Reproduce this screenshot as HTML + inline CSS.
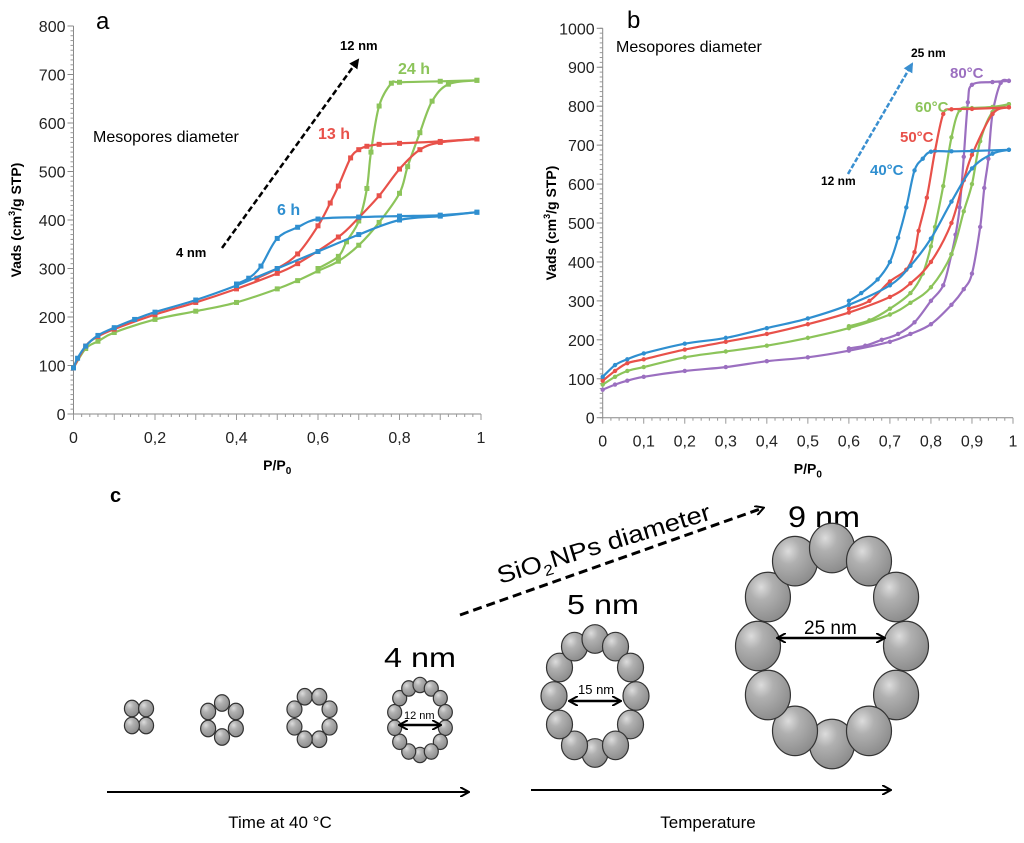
<!DOCTYPE html>
<html><head><meta charset="utf-8"><style>
body{margin:0;background:#fff;}
svg text{font-family:"Liberation Sans",sans-serif;}
</style></head><body>
<svg id="fig" width="1024" height="838" viewBox="0 0 1024 838" xmlns="http://www.w3.org/2000/svg">
<defs>
<radialGradient id="ball" cx="0.35" cy="0.3" r="0.75"><stop offset="0" stop-color="#dcdcdc"/><stop offset="0.35" stop-color="#b0b0b0"/><stop offset="1" stop-color="#8a8a8a"/></radialGradient>
<marker id="ah" markerWidth="10" markerHeight="10" refX="8" refY="5" orient="auto" markerUnits="userSpaceOnUse"><path d="M0,0 L9,5 L0,10" fill="none" stroke="#000" stroke-width="2"/></marker>
<marker id="ahs" markerWidth="10" markerHeight="10" refX="2" refY="5" orient="auto" markerUnits="userSpaceOnUse"><path d="M10,0 L1,5 L10,10" fill="none" stroke="#000" stroke-width="2"/></marker>
<marker id="ahf" markerWidth="10" markerHeight="10" refX="8" refY="5" orient="auto" markerUnits="userSpaceOnUse"><path d="M0,0 L10,5 L0,10Z" fill="#000"/></marker>
<marker id="ahb" markerWidth="10" markerHeight="10" refX="8" refY="5" orient="auto" markerUnits="userSpaceOnUse"><path d="M0,0 L10,5 L0,10Z" fill="#3a8fd0"/></marker>
</defs>
<g id="ga"></g>
<g id="gb"></g>
<g id="gc">
<text x="110" y="502" font-size="20" font-weight="bold">c</text>
<line x1="460" y1="615" x2="763" y2="508" stroke="#000" stroke-width="3" stroke-dasharray="9,5" marker-end="url(#ah)"/>
<text transform="translate(500,584) rotate(-17)" font-size="24" textLength="222" lengthAdjust="spacingAndGlyphs">SiO<tspan font-size="15" dy="6">2</tspan><tspan dy="-6">NPs diameter</tspan></text>
<text x="384" y="667" font-size="28" textLength="72" lengthAdjust="spacingAndGlyphs">4 nm</text>
<text x="567" y="614" font-size="28" textLength="72" lengthAdjust="spacingAndGlyphs">5 nm</text>
<text x="788" y="527" font-size="30" textLength="72" lengthAdjust="spacingAndGlyphs">9 nm</text>
<line x1="107" y1="792" x2="468" y2="792" stroke="#000" stroke-width="2" marker-end="url(#ah)"/>
<line x1="531" y1="790" x2="890" y2="790" stroke="#000" stroke-width="2" marker-end="url(#ah)"/>
<text x="280" y="828" font-size="17" text-anchor="middle">Time at 40 °C</text>
<text x="708" y="828" font-size="17" text-anchor="middle">Temperature</text>
</g>
</svg>
<script>
const NS="http://www.w3.org/2000/svg";
function mk(p,t,a){const e=document.createElementNS(NS,t);for(const k in a)e.setAttribute(k,a[k]);p.appendChild(e);return e;}

// ---- chart a data ----
const aTicksY=[0,100,200,300,400,500,600,700,800];
const aTicksX=[0,0.2,0.4,0.6,0.8,1];
const aTickLabelsX=["0","0,2","0,4","0,6","0,8","1"];
const a6hAdsX=[0,0.01,0.03,0.06,0.1,0.15,0.2,0.3,0.4,0.5,0.6,0.7,0.8,0.9,0.99];
const a6hAdsY=[95,115,140,162,178,195,210,235,265,300,335,370,400,408,416];
const a6hDesX=[0.99,0.9,0.8,0.7,0.6,0.55,0.5,0.46,0.43,0.4];
const a6hDesY=[416,410,408,406,402,385,362,305,280,268];
const a13hAdsX=[0,0.03,0.06,0.1,0.2,0.3,0.4,0.5,0.55,0.65,0.7,0.75,0.8,0.85,0.9,0.99];
const a13hAdsY=[95,140,160,175,205,230,258,290,310,365,405,450,505,545,560,567];
const a13hDesX=[0.99,0.9,0.8,0.75,0.72,0.7,0.68,0.65,0.63,0.6,0.55,0.5,0.45];
const a13hDesY=[567,562,558,556,552,545,528,470,435,388,330,300,280];
const a24hAdsX=[0,0.03,0.06,0.1,0.2,0.3,0.4,0.5,0.55,0.6,0.65,0.7,0.75,0.8,0.82,0.85,0.88,0.92,0.99];
const a24hAdsY=[95,135,150,168,195,212,230,258,275,295,315,348,395,455,510,580,645,680,688];
const a24hDesX=[0.99,0.9,0.8,0.78,0.75,0.73,0.72,0.7,0.67,0.65,0.6];
const a24hDesY=[688,686,684,682,635,540,465,398,355,325,300];

// ---- chart b data ----
const bTicksY=[0,100,200,300,400,500,600,700,800,900,1000];
const bTicksX=[0,0.1,0.2,0.3,0.4,0.5,0.6,0.7,0.8,0.9,1];
const bTickLabelsX=["0","0,1","0,2","0,3","0,4","0,5","0,6","0,7","0,8","0,9","1"];
const b40AdsX=[0,0.03,0.06,0.1,0.2,0.3,0.4,0.5,0.6,0.7,0.75,0.8,0.85,0.9,0.95,0.99];
const b40AdsY=[105,135,150,165,190,205,230,255,290,340,390,460,555,640,678,688];
const b40DesX=[0.99,0.9,0.85,0.8,0.78,0.76,0.74,0.72,0.7,0.67,0.63,0.6];
const b40DesY=[688,685,684,683,665,635,540,462,400,355,320,300];
const b50AdsX=[0,0.03,0.06,0.1,0.2,0.3,0.4,0.5,0.6,0.7,0.75,0.8,0.85,0.88,0.9,0.95,0.99];
const b50AdsY=[95,120,140,150,175,195,215,240,270,310,345,400,500,610,675,780,797];
const b50DesX=[0.99,0.9,0.85,0.83,0.81,0.79,0.77,0.76,0.74,0.7,0.65,0.6];
const b50DesY=[797,793,792,780,685,565,480,425,380,350,300,280];
const b60AdsX=[0,0.03,0.06,0.1,0.2,0.3,0.4,0.5,0.6,0.7,0.75,0.8,0.85,0.88,0.9,0.92,0.95,0.99];
const b60AdsY=[85,105,120,130,155,170,185,205,230,265,295,335,420,530,600,710,785,805];
const b60DesX=[0.99,0.95,0.9,0.87,0.85,0.83,0.81,0.8,0.78,0.75,0.7,0.65,0.6];
const b60DesY=[805,798,795,790,720,595,490,440,370,320,280,250,235];
const b80AdsX=[0,0.03,0.06,0.1,0.2,0.3,0.4,0.5,0.6,0.7,0.75,0.8,0.85,0.88,0.9,0.92,0.93,0.94,0.95,0.97,0.99];
const b80AdsY=[72,85,95,105,120,130,145,155,172,195,215,240,290,330,370,490,590,665,780,860,865];
const b80DesX=[0.99,0.95,0.9,0.89,0.88,0.87,0.86,0.85,0.83,0.8,0.76,0.72,0.68,0.64,0.6];
const b80DesY=[865,862,855,810,670,540,470,420,340,300,245,215,200,185,178];

function smooth(P){
  let d='M'+P[0][0].toFixed(1)+','+P[0][1].toFixed(1);
  for(let i=0;i<P.length-1;i++){
    const p0=P[i-1]||P[i],p1=P[i],p2=P[i+1],p3=P[i+2]||P[i+1];
    const c1=[p1[0]+(p2[0]-p0[0])/6,p1[1]+(p2[1]-p0[1])/6];
    const c2=[p2[0]-(p3[0]-p1[0])/6,p2[1]-(p3[1]-p1[1])/6];
    d+=' C'+c1.map(v=>v.toFixed(1))+' '+c2.map(v=>v.toFixed(1))+' '+p2.map(v=>v.toFixed(1));
  }
  return d;
}
function chart(g,o){
  const sx=v=>o.x0+(o.x1-o.x0)*v, sy=v=>o.y0-(o.y0-o.y1)*v/o.ymax;
  const ax=mk(g,'line',{x1:sx(0),y1:sy(0),x2:sx(0),y2:sy(o.ymax),stroke:'#888','stroke-width':1});
  
  
  const bx=mk(g,'line',{x1:sx(0),y1:sy(0),x2:sx(1),y2:sy(0),stroke:'#888','stroke-width':1});
  
  
  const minorY=o.ymax/80;
  for(let v=0;v<=o.ymax+0.001;v+=minorY){const t=mk(g,'line',{x1:sx(0)-3,x2:sx(0),y1:sy(v),y2:sy(v),stroke:'#999'});}
  for(let i=0;i<=50;i++){const v=i/50;const t=mk(g,'line',{x1:sx(v),x2:sx(v),y1:sy(0),y2:sy(0)+(i%5?3:6),stroke:'#999'});}
  o.ty.forEach(v=>{const t=mk(g,'text',{x:sx(0)-8,y:sy(v)+6,'font-size':16,'text-anchor':'end',fill:'#222'});t.textContent=v;
    const l=mk(g,'line',{x1:sx(0)-6,x2:sx(0),y1:sy(v),y2:sy(v),stroke:'#888'});});
  o.tx.forEach((v,i)=>{const t=mk(g,'text',{x:sx(v),y:sy(0)+29,'font-size':16,'text-anchor':'middle',fill:'#222'});t.textContent=o.txl[i];});
  const xt=mk(g,'text',{x:(sx(0)+sx(1))/2,y:sy(0)+56,'font-size':14,'font-weight':'bold','text-anchor':'middle'});
  xt.innerHTML='P/P<tspan font-size="10" dy="4">0</tspan>';
  
  
  const yt=mk(g,'text',{transform:`translate(${o.ytx},${(sy(0)+sy(o.ymax))/2}) rotate(-90)`,'font-size':14,'font-weight':'bold','text-anchor':'middle'});
  yt.innerHTML='Vads (cm<tspan font-size="9" dy="-6">3</tspan><tspan dy="6">/g STP)</tspan>';
  
  
  o.series.forEach(s=>{
    [[s[0],s[1]],[s[2],s[3]]].forEach(([X,Y],bi)=>{
      const P=X.map((x,i)=>[sx(x),sy(Y[i])]);
      const p=mk(g,'path',{d:smooth(P),fill:'none',stroke:s[4],'stroke-width':2.2});
      
      
      X.forEach((x,i)=>{const m=mk(g,o.sq?'rect':'circle',o.sq?{x:sx(x)-2.5,y:sy(Y[i])-2.5,width:5,height:5,fill:s[4]}:{cx:sx(x),cy:sy(Y[i]),r:2.2,fill:s[4]});
        });
    });
  });
  return {sx,sy};
}
chart(document.getElementById('ga'),{x0:73.5,x1:481,y0:414,y1:26,ymax:800,ty:aTicksY,tx:aTicksX,txl:aTickLabelsX,ytx:21,sq:true,series:[
 [a24hAdsX,a24hAdsY,a24hDesX,a24hDesY,'#8cc45a','series-24h'],
 [a13hAdsX,a13hAdsY,a13hDesX,a13hDesY,'#e8514a','series-13h'],
 [a6hAdsX,a6hAdsY,a6hDesX,a6hDesY,'#2f8fd0','series-6h']]});
chart(document.getElementById('gb'),{x0:602.7,x1:1013,y0:417.7,y1:28.3,ymax:1000,ty:bTicksY,tx:bTicksX,txl:bTickLabelsX,ytx:556,sq:false,series:[
 [b80AdsX,b80AdsY,b80DesX,b80DesY,'#9b6fc0','series-80c'],
 [b60AdsX,b60AdsY,b60DesX,b60DesY,'#8cc45a','series-60c'],
 [b50AdsX,b50AdsY,b50DesX,b50DesY,'#e8514a','series-50c'],
 [b40AdsX,b40AdsY,b40DesX,b40DesY,'#2f8fd0','series-40c']]});

function label(g,x,y,txt,size,col,bold,name){const t=mk(g,'text',{x:x,y:y,'font-size':size,fill:col,'font-weight':bold?'bold':'normal'});t.textContent=txt;}
const ga=document.getElementById('ga'),gb=document.getElementById('gb');
label(ga,96,29,'a',24,'#000',false,'panel-a-label');
label(ga,93,142,'Mesopores diameter',16,'#000',false,'mesopores-label-a');
label(ga,176,257,'4 nm',13,'#000',true,'label-4nm-a');
label(ga,340,50,'12 nm',13,'#000',true,'label-12nm-a');
label(ga,398,74,'24 h',16,'#8cc45a',true,'label-24h');
label(ga,318,139,'13 h',16,'#e8514a',true,'label-13h');
label(ga,277,215,'6 h',16,'#2f8fd0',true,'label-6h');
let ar=mk(ga,'line',{x1:222,y1:248,x2:358,y2:60,stroke:'#000','stroke-width':2.5,'stroke-dasharray':'6,3','marker-end':'url(#ahf)'});


label(gb,627,28,'b',24,'#000',false,'panel-b-label');
label(gb,616,52,'Mesopores diameter',16,'#000',false,'mesopores-label-b');
label(gb,821,185,'12 nm',12,'#000',true,'label-12nm-b');
label(gb,911,57,'25 nm',12,'#000',true,'label-25nm-b');
label(gb,950,78,'80°C',15,'#9b6fc0',true,'label-80c');
label(gb,915,112,'60°C',15,'#8cc45a',true,'label-60c');
label(gb,900,142,'50°C',15,'#e8514a',true,'label-50c');
label(gb,870,175,'40°C',15,'#2f8fd0',true,'label-40c');
ar=mk(gb,'line',{x1:848,y1:174,x2:912,y2:64,stroke:'#3a8fd0','stroke-width':2.5,'stroke-dasharray':'5,2','marker-end':'url(#ahb)'});



// panel c rings (elliptical rings of slightly elliptical balls)
const gc=document.getElementById('gc');
function ring(cx,cy,n,Rx,Ry,r,name,rot){const g=mk(gc,'g',{});
  for(let i=0;i<n;i++){const a=rot+i*2*Math.PI/n;const c=mk(g,'ellipse',{cx:cx+Rx*Math.cos(a),cy:cy+Ry*Math.sin(a),rx:r,ry:r*1.1,fill:'url(#ball)',stroke:'#333','stroke-width':1.2});}}
ring(139,717,4,10,12,7.5,'cluster-4',Math.PI/4);
ring(222,720,6,16,17,7.5,'ring-6',Math.PI/2);
ring(312,718,8,19,23,7.5,'ring-8',Math.PI/8);
ring(420,720,14,26,35,7,'ring-12nm',Math.PI/2);
ring(595,696,12,41,57,13,'ring-15nm',Math.PI/2);
ring(832,646,12,74,98,22.5,'ring-25nm',Math.PI/2);
function dim(x1,x2,y,txt,fs,tx,ty,name){const l=mk(gc,'line',{x1:x1,y1:y,x2:x2,y2:y,stroke:'#000','stroke-width':2.5,'marker-end':'url(#ah)','marker-start':'url(#ahs)'});
 const t=mk(gc,'text',{x:tx,y:ty,'font-size':fs});t.textContent=txt;}
dim(400,440,725,'12 nm',11,404,719,'dim-12nm');
dim(570,620,701,'15 nm',13,578,694,'dim-15nm');
dim(778,884,638,'25 nm',19,804,634,'dim-25nm');
</script>
</body></html>
